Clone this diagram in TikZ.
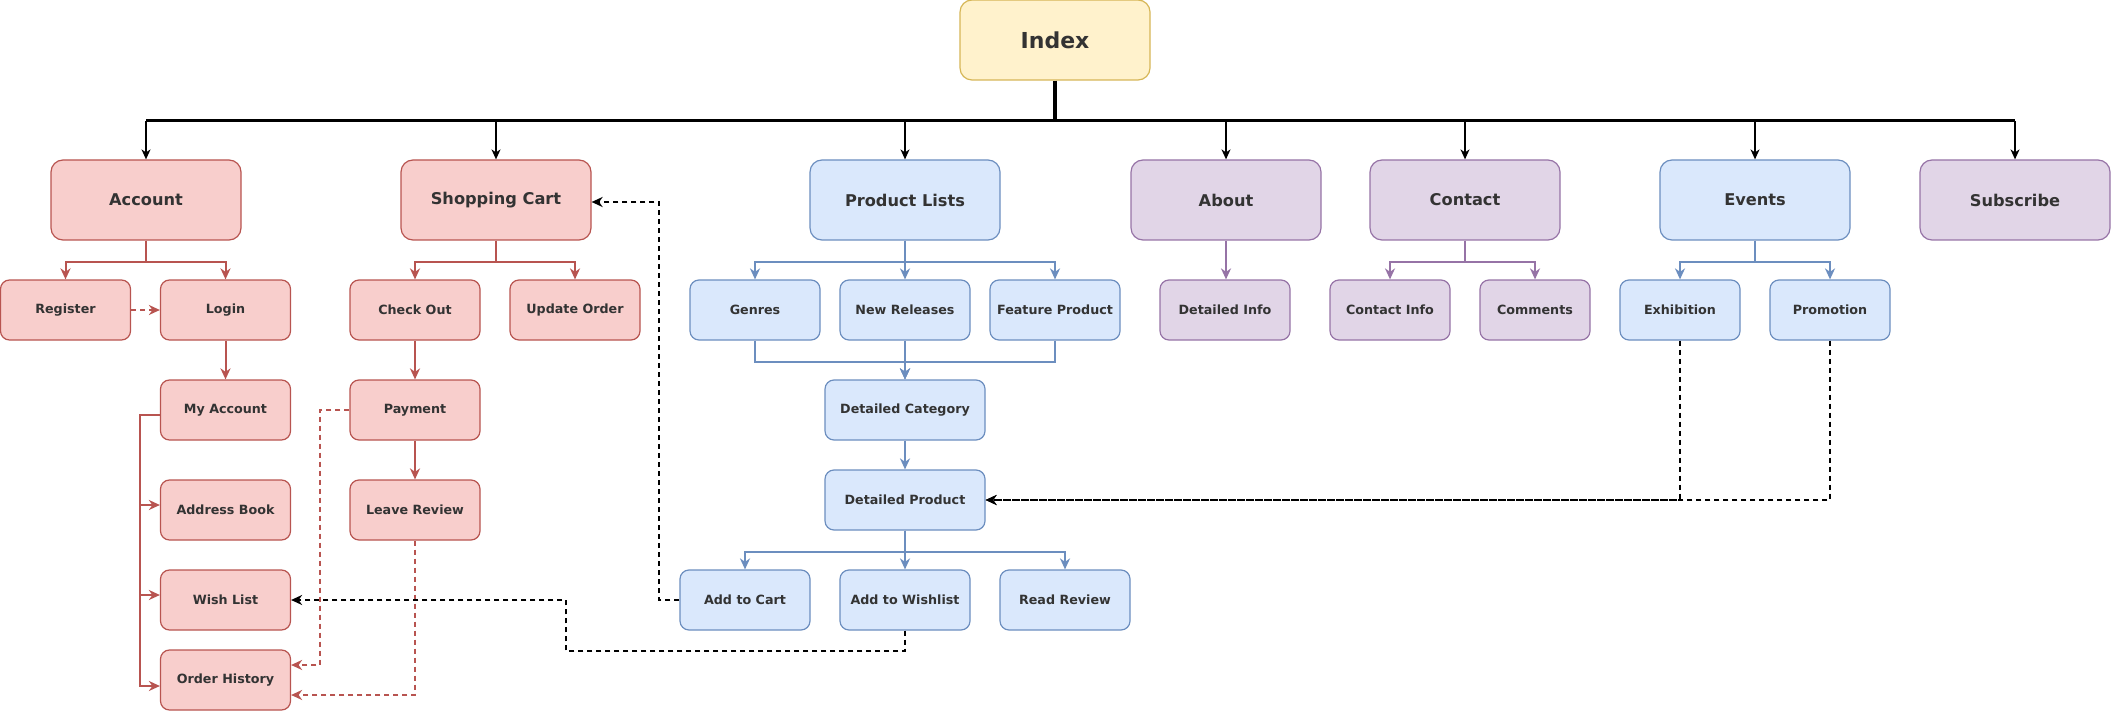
\documentclass[tikz,border=0pt]{standalone}
\usepackage{fontspec}
\setmainfont{DejaVu Sans}
\usetikzlibrary{arrows.meta,calc}
\definecolor{txt}{HTML}{333333}
\definecolor{redf}{HTML}{F8CECC}
\definecolor{redd}{HTML}{B85450}
\definecolor{bluef}{HTML}{DAE8FC}
\definecolor{blued}{HTML}{6C8EBF}
\definecolor{purf}{HTML}{E1D5E7}
\definecolor{purd}{HTML}{9673A6}
\definecolor{yelf}{HTML}{FFF2CC}
\definecolor{yeld}{HTML}{D6B656}
\begin{document}
\begin{tikzpicture}[x=1pt,y=-1pt,
 tip/.style={-{Stealth[length=11pt,width=10pt,inset=3.5pt]}},
 box/.style={rounded corners=9pt, minimum width=130pt, minimum height=60pt, inner sep=0pt, font=\fontsize{12.7}{15}\selectfont\bfseries, text=txt, line width=1.2pt},
 big/.style={box, rounded corners=12pt, minimum width=190pt, minimum height=80pt, font=\fontsize{16.2}{19}\selectfont\bfseries},
 rbox/.style={draw=redd, fill=redf},
 bbox/.style={draw=blued, fill=bluef},
 pbox/.style={draw=purd, fill=purf},
 ybox/.style={draw=yeld, fill=yelf},
 rline/.style={draw=redd, line width=2pt, tip},
 bline/.style={draw=blued, line width=2pt, tip},
 pline/.style={draw=purd, line width=2pt, tip},
 kline/.style={draw=black, line width=2pt, tip},
 dropline/.style={draw=black, line width=1.6pt, -{Stealth[length=10pt,width=9pt,inset=3pt]}},
 dashln/.style={dash pattern=on 5pt off 4pt},
]
\useasboundingbox (0,0) rectangle (2111,711);
% top
\node[big, ybox, font=\fontsize{22}{26}\selectfont\bfseries] (index) at (1055,40) {Index};
% level 1
\node[big, rbox] (account) at (146,200) {Account};
\node[big, rbox] (cart) at (496,200) {Shopping Cart};
\node[big, bbox] (plists) at (905,200) {Product Lists};
\node[big, pbox] (about) at (1226,200) {About};
\node[big, pbox] (contact) at (1465,200) {Contact};
\node[big, bbox] (events) at (1755,200) {Events};
\node[big, pbox] (subscribe) at (2015,200) {Subscribe};
% level 2
\node[box, rbox] (register) at (65.5,310) {Register};
\node[box, rbox] (login) at (225.5,310) {Login};
\node[box, rbox] (checkout) at (415,310) {Check Out};
\node[box, rbox] (update) at (575,310) {Update Order};
\node[box, bbox] (genres) at (755,310) {Genres};
\node[box, bbox] (newrel) at (905,310) {New Releases};
\node[box, bbox] (feature) at (1055,310) {Feature Product};
\node[box, pbox] (detinfo) at (1225,310) {Detailed Info};
\node[box, pbox, minimum width=120pt] (continfo) at (1390,310) {Contact Info};
\node[box, pbox, minimum width=110pt] (comments) at (1535,310) {Comments};
\node[box, bbox, minimum width=120pt] (exhibition) at (1680,310) {Exhibition};
\node[box, bbox, minimum width=120pt] (promotion) at (1830,310) {Promotion};
% level 3
\node[box, rbox] (myaccount) at (225.5,410) {My Account};
\node[box, rbox] (payment) at (415,410) {Payment};
\node[box, bbox, minimum width=160pt] (detcat) at (905,410) {Detailed Category};
\node[box, bbox, minimum width=160pt] (detprod) at (905,500) {Detailed Product};
\node[box, rbox] (addressbook) at (225.5,510) {Address Book};
\node[box, rbox] (leavereview) at (415,510) {Leave Review};
\node[box, rbox] (wishlist) at (225.5,600) {Wish List};
\node[box, bbox] (addcart) at (745,600) {Add to Cart};
\node[box, bbox] (addwish) at (905,600) {Add to Wishlist};
\node[box, bbox] (readreview) at (1065,600) {Read Review};
\node[box, rbox] (orderhistory) at (225.5,680) {Order History};

% index bus
\coordinate (bus) at (1055,121);
\draw[line width=3.5pt] (index.south) -- (bus);
\draw[line width=3pt] (account.north |- bus) -- (subscribe.north |- bus);
\foreach \n in {account,cart,plists,about,contact,events,subscribe}
  \draw[dropline] (\n.north |- bus) -- (\n.north);

% account
\draw[rline] (account.south) -- ++(0,21) -| (register.north);
\draw[rline] (account.south) -- ++(0,21) -| (login.north);
\draw[rline, dashln] (register.east) -- (login.west);
\draw[rline] (login.south) -- (myaccount.north);
\draw[rline] ([yshift=-5pt]myaccount.west) -- ++(-20,0) |- ([yshift=5pt]addressbook.west);
\draw[rline] ([yshift=-5pt]myaccount.west) -- ++(-20,0) |- ([yshift=5pt]wishlist.west);
\draw[rline] ([yshift=-5pt]myaccount.west) -- ++(-20,0) |- ([yshift=-6pt]orderhistory.west);

% cart
\draw[rline] (cart.south) -- ++(0,21) -| (checkout.north);
\draw[rline] (cart.south) -- ++(0,21) -| (update.north);
\draw[rline] (checkout.south) -- (payment.north);
\draw[rline] (payment.south) -- (leavereview.north);
\draw[rline, dashln] (payment.west) -- ++(-29.5,0) |- ([yshift=15pt]orderhistory.east);
\draw[rline, dashln] (leavereview.south) |- ([yshift=-15pt]orderhistory.east);

% product lists
\draw[bline] (plists.south) -- ++(0,21) -| (genres.north);
\draw[bline] (plists.south) -- ++(0,21) -| (feature.north);
\draw[bline] (plists.south) -- (newrel.north);
\draw[bline] (genres.south) -- ++(0,21) -| (detcat.north);
\draw[bline] (feature.south) -- ++(0,21) -| (detcat.north);
\draw[bline] (newrel.south) -- (detcat.north);
\draw[bline] (detcat.south) -- (detprod.north);
\draw[bline] (detprod.south) -- ++(0,21) -| (addcart.north);
\draw[bline] (detprod.south) -- ++(0,21) -| (readreview.north);
\draw[bline] (detprod.south) -- (addwish.north);

% about / contact / events
\draw[pline] (about.south) -- (about.south |- detinfo.north);
\draw[pline] (contact.south) -- ++(0,21) -| (continfo.north);
\draw[pline] (contact.south) -- ++(0,21) -| (comments.north);
\draw[bline] (events.south) -- ++(0,21) -| (exhibition.north);
\draw[bline] (events.south) -- ++(0,21) -| (promotion.north);

% dashed black links
\draw[kline, dashln] (exhibition.south) |- (detprod.east);
\draw[kline, dashln] (promotion.south) |- (detprod.east);
\draw[kline, dashln] (addcart.west) -- ++(-20,0) |- ([yshift=-2pt]cart.east);
\coordinate (wlbend) at (566,651);
\draw[kline, dashln] (addwish.south) |- (wlbend) |- (wishlist.east);
\end{tikzpicture}
\end{document}
